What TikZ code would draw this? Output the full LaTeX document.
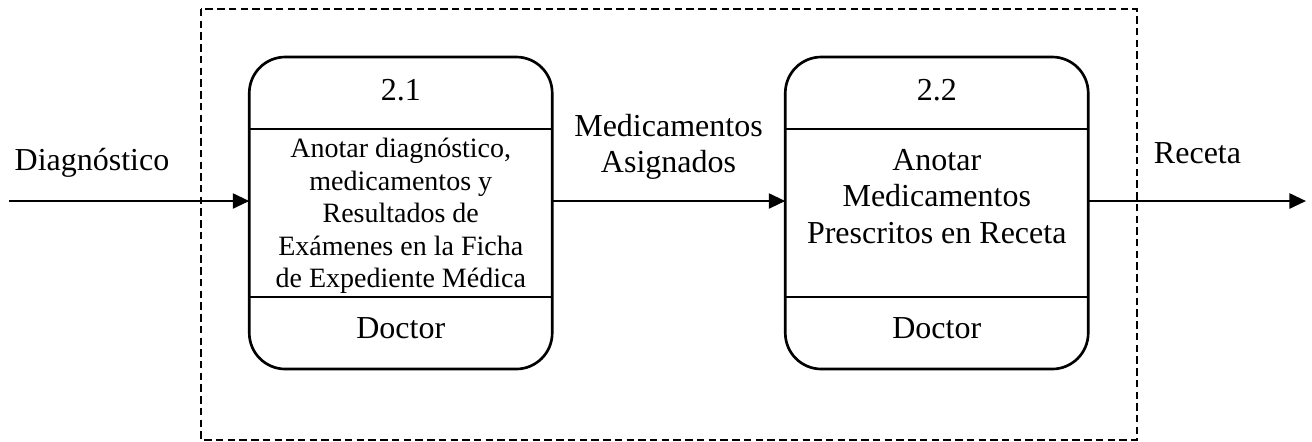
\documentclass[tikz,border=0pt]{standalone}
\usepackage{fontspec}
\setmainfont{Liberation Serif}
\usetikzlibrary{arrows.meta}
\begin{document}
\begin{tikzpicture}[x=0.375pt,y=-0.375pt,
  procbox/.style={draw, line width=1pt, rounded corners=13.5pt, minimum width=113.6pt, minimum height=117pt, inner sep=0pt, outer sep=0pt},
  divider/.style={line width=1pt},
  flow/.style={line width=1pt, -{Triangle[length=6.2pt,width=5.6pt]}},
  boundary/.style={line width=0.75pt, dash pattern=on 2.8pt off 1.6pt},
  lbl/.style={font=\fontsize{12}{13.75}\selectfont, inner sep=0pt, align=center},
  small/.style={font=\fontsize{10.5}{12.2}\selectfont, inner sep=0pt, align=center}]
\useasboundingbox (0,0) rectangle (1312,441);
% boundary
\draw[boundary] (201,9) rectangle (1137,440);
% process boxes
\node[procbox] (b1) at (400.75,213) {};
\node[procbox] (b2) at (936.75,213) {};
\foreach \b in {b1,b2}{
  \draw[divider] (\b.west |- {(0,129)}) -- (\b.east |- {(0,129)});
  \draw[divider] (\b.west |- {(0,297)}) -- (\b.east |- {(0,297)});
}
% texts in boxes
\node[lbl, anchor=base] (n1) at (400.75,100) {2.1};
\node[small] (t1) at (400.75,216) {Anotar diagnóstico,\\medicamentos y\\Resultados de\\Exámenes en la Ficha\\de Expediente Médica};
\node[lbl, anchor=base] (d1) at (400.75,338) {Doctor};
\node[lbl, anchor=base] (n2) at (936.75,100) {2.2};
\node[lbl] (t2) at (936.75,196.5) {Anotar\\Medicamentos\\Prescritos en Receta};
\node[lbl, anchor=base] (d2) at (936.75,338) {Doctor};
% flows
\coordinate (src) at (9,201);
\coordinate (dst) at (1306,201);
\draw[flow] (src) -- (b1.west |- src);
\draw[flow] (b1.east |- src) -- (b2.west |- src);
\draw[flow] (b2.east |- src) -- (dst);
% flow labels
\node[lbl, anchor=base] (l1) at (92,170.7) {Diagnóstico};
\node[lbl] (l2) at (668.5,147) {Medicamentos\\Asignados};
\node[lbl, anchor=base] (l3) at (1197.5,163) {Receta};
\end{tikzpicture}
\end{document}
